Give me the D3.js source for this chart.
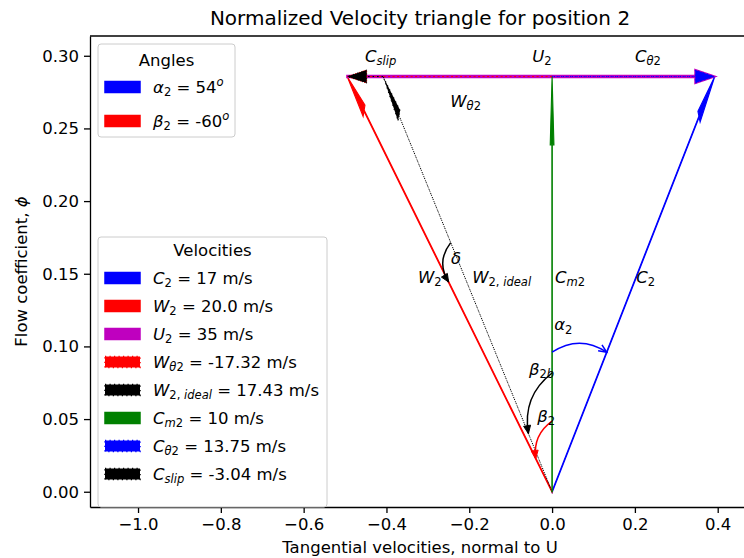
<!DOCTYPE html>
<html>
<head>
<meta charset="utf-8">
<script src="https://cdn.jsdelivr.net/npm/d3@7"></script>
<style>
  body { margin: 0; background: #fff; }
  text { font-family: "DejaVu Sans", sans-serif; fill: #000; }
</style>
</head>
<body>
<div id="container"></div>
<script>
/* DATA (m/s and degrees) */
const U2 = 35;
const velocityKeys   = ["C2", "W2", "U2", "Wt2", "W2ideal", "Cm2", "Ct2", "Cslip"];
const velocityValues = [17, 20.0, 35, -17.32, 17.43, 10, 13.75, -3.04];
const velocityDigits = [0, 1, 0, 2, 2, 0, 2, 2];
const angleKeys   = ["alpha2", "beta2"];
const angleValues = [54, -60];
const xTicks = [-1.0, -0.8, -0.6, -0.4, -0.2, 0.0, 0.2, 0.4];
const yTicks = [0.00, 0.05, 0.10, 0.15, 0.20, 0.25, 0.30];

/* CONSTANTS */
const width = 744, height = 558;
const margin = { top: 36, right: -6, bottom: 51, left: 90 };
const fontSize = 16.5;
const headLength = 0.047, headWidth = 0.009, shaftWidth = 0.001;
const dotted = "1.2,3.3";

const val = k => velocityValues[velocityKeys.indexOf(k)];

// styles for each velocity arrow (legend order = draw order)
const styles = {
  C2:      { color: "#0000ff", dash: null, lw: 1.1 },
  W2:      { color: "#ff0000", dash: null, lw: 1.1 },
  U2:      { color: "#bf00bf", dash: null, lw: 2 },
  Wt2:     { color: "#ff0000", dash: dotted, lw: 1 },
  W2ideal: { color: "#000000", dash: dotted, lw: 1 },
  Cm2:     { color: "#008000", dash: null, lw: 1.1 },
  Ct2:     { color: "#0000ff", dash: dotted, lw: 1 },
  Cslip:   { color: "#000000", dash: dotted, lw: 1 }
};

// math-like labels: [text, kind] kind: i italic, r roman, si sub italic, sr sub roman, pi sup italic
const legendMath = {
  C2:      [["C", "i"], ["2", "sr"]],
  W2:      [["W", "i"], ["2", "sr"]],
  U2:      [["U", "i"], ["2", "sr"]],
  Wt2:     [["W", "i"], ["θ", "si"], ["2", "sr"]],
  W2ideal: [["W", "i"], ["2,", "sr"], [" ideal", "si"]],
  Cm2:     [["C", "i"], ["m", "si"], ["2", "sr"]],
  Ct2:     [["C", "i"], ["θ", "si"], ["2", "sr"]],
  Cslip:   [["C", "i"], ["slip", "si"]],
  alpha2:  [["α", "i"], ["2", "sr"]],
  beta2:   [["β", "i"], ["2", "sr"]]
};

// annotation text placed in normalized data coordinates
const labels = [
  { at: [-0.452, 0.296], text: legendMath.Cslip },
  { at: [-0.048, 0.296], text: legendMath.U2 },
  { at: [0.200, 0.296],  text: legendMath.Ct2 },
  { at: [-0.246, 0.265], text: legendMath.Wt2 },
  { at: [-0.244, 0.157], text: [["δ", "i"]] },
  { at: [-0.324, 0.1436], text: legendMath.W2 },
  { at: [-0.193, 0.1436], text: legendMath.W2ideal },
  { at: [0.007, 0.1436], text: legendMath.Cm2 },
  { at: [0.203, 0.1436], text: legendMath.C2 },
  { at: [0.005, 0.111],  text: legendMath.alpha2 },
  { at: [-0.056, 0.0804], text: [["β", "i"], ["2", "sr"], ["b", "si"]] },
  { at: [-0.036, 0.048], text: legendMath.beta2 }
];

// angle arcs: fraction along one vector to fraction along another
const arcs = [
  { from: "Cm2", f0: 0.336, to: "C2", f1: 0.336, rad: 0.33, color: "#0000ff", head: "open" },
  { from: "Cm2", f0: 0.286, to: "W2ideal", f1: 0.14, rad: -0.3, color: "#000000", head: "filled" },
  { from: "Cm2", f0: 0.17, to: "W2", f1: 0.08, rad: -0.3, color: "#ff0000", head: "filled" },
  { from: "W2ideal", f0: 0.6, to: "W2", f1: 0.505, rad: -0.35, color: "#000000", head: "filled" }
];

/* VECTOR GEOMETRY (normalized by U2) */
const phi = val("Cm2") / U2;
const wt = val("Wt2") / U2, ct = val("Ct2") / U2;
const wtIdeal = (val("Wt2") - val("Cslip")) / U2;
const vectors = {
  C2:      [[0, 0], [ct, phi]],
  W2:      [[0, 0], [wt, phi]],
  U2:      [[wt, phi], [ct, phi]],
  Wt2:     [[0, phi], [wt, phi]],
  W2ideal: [[0, 0], [wtIdeal, phi]],
  Cm2:     [[0, 0], [0, phi]],
  Ct2:     [[0, phi], [ct, phi]],
  Cslip:   [[wtIdeal, phi], [wt, phi]]
};

/* SCALES */
const xScale = d3.scaleLinear().domain([-1.116, 0.478]).range([margin.left, width - margin.right]);
const yScale = d3.scaleLinear().domain([-0.0105, 0.3136]).range([height - margin.bottom, margin.top]);

const svg = d3.select("#container").append("svg")
  .attr("width", width).attr("height", height);

function mathText(g, x, y, parts, size) {
  const t = g.append("text").attr("x", x).attr("y", y).attr("font-size", size);
  let shift = 0;
  parts.forEach(([s, kind]) => {
    const target = kind[0] === "s" ? size * 0.2 : kind[0] === "p" ? -size * 0.4 : 0;
    const ts = t.append("tspan").text(s).attr("dy", target - shift);
    shift = target;
    if (kind.endsWith("i")) ts.attr("font-style", "italic");
    if (target !== 0) ts.attr("font-size", size * 0.7);
  });
  return t;
}

/* AXES */
svg.append("g")
  .attr("transform", `translate(0,${height - margin.bottom})`)
  .call(d3.axisBottom(xScale).tickValues(xTicks).tickFormat(d3.format(".1f"))
    .tickSizeInner(6).tickSizeOuter(0).tickPadding(5))
  .call(g => g.selectAll("text").attr("font-size", fontSize).attr("font-family", "DejaVu Sans"));

svg.append("g")
  .attr("transform", `translate(${margin.left},0)`)
  .call(d3.axisLeft(yScale).tickValues(yTicks).tickFormat(d3.format(".2f"))
    .tickSizeInner(6).tickSizeOuter(0).tickPadding(5))
  .call(g => g.selectAll("text").attr("font-size", fontSize).attr("font-family", "DejaVu Sans"));

svg.selectAll(".domain").attr("stroke-width", 1.3);
svg.selectAll(".tick line").attr("stroke-width", 1.3);

// top spine
svg.append("line")
  .attr("x1", margin.left).attr("x2", width - margin.right)
  .attr("y1", margin.top).attr("y2", margin.top)
  .attr("stroke", "#000").attr("stroke-width", 1.3);

svg.append("text")
  .attr("x", (margin.left + width - margin.right) / 2).attr("y", 25)
  .attr("text-anchor", "middle").attr("font-size", 20)
  .text("Normalized Velocity triangle for position 2");

svg.append("text")
  .attr("x", (margin.left + width - margin.right) / 2).attr("y", height - 5)
  .attr("text-anchor", "middle").attr("font-size", fontSize)
  .text("Tangential velocities, normal to U");

const yLabel = svg.append("text")
  .attr("transform", `translate(27,${(margin.top + height - margin.bottom) / 2}) rotate(-90)`)
  .attr("text-anchor", "middle").attr("font-size", fontSize);
yLabel.append("tspan").text("Flow coefficient, ");
yLabel.append("tspan").attr("font-style", "italic").text("ϕ");

/* ARROWS (FancyArrow-like polygons built in data space) */
function arrowPoints([s, e], sw) {
  const dx = e[0] - s[0], dy = e[1] - s[1];
  const L = Math.hypot(dx, dy);
  const ux = dx / L, uy = dy / L, nx = -uy, ny = ux;
  const hl = Math.min(headLength, L);
  const bx = e[0] - ux * hl, by = e[1] - uy * hl;
  const pts = [
    [s[0] + nx * sw / 2, s[1] + ny * sw / 2],
    [bx + nx * sw / 2, by + ny * sw / 2],
    [bx + nx * headWidth / 2, by + ny * headWidth / 2],
    e,
    [bx - nx * headWidth / 2, by - ny * headWidth / 2],
    [bx - nx * sw / 2, by - ny * sw / 2],
    [s[0] - nx * sw / 2, s[1] - ny * sw / 2]
  ];
  return pts.map(p => [xScale(p[0]), yScale(p[1])].join(",")).join(" ");
}

svg.append("g").selectAll("polygon")
  .data(velocityKeys)
  .join("polygon")
  .attr("points", k => arrowPoints(vectors[k], styles[k].dash ? 0 : shaftWidth))
  .attr("fill", k => styles[k].color)
  .attr("stroke", k => styles[k].color)
  .attr("stroke-width", k => styles[k].lw)
  .attr("stroke-linejoin", "miter")
  .attr("stroke-dasharray", k => styles[k].dash);

/* ANGLE ARCS */
const pointAlong = (k, f) => {
  const [s, e] = vectors[k];
  return [xScale(s[0] + (e[0] - s[0]) * f), yScale(s[1] + (e[1] - s[1]) * f)];
};
const arcG = svg.append("g");
arcs.forEach(a => {
  const p0 = pointAlong(a.from, a.f0), p1 = pointAlong(a.to, a.f1);
  const dx = p1[0] - p0[0], dy = p1[1] - p0[1];
  const c = [(p0[0] + p1[0]) / 2 + a.rad * dy, (p0[1] + p1[1]) / 2 - a.rad * dx];
  arcG.append("path")
    .attr("d", `M${p0}Q${c} ${p1}`)
    .attr("fill", "none").attr("stroke", a.color).attr("stroke-width", 1.5);
  const tx = p1[0] - c[0], ty = p1[1] - c[1], tl = Math.hypot(tx, ty);
  const ux = tx / tl, uy = ty / tl, hl = 8, hw = 3.5;
  const l = [p1[0] - ux * hl - uy * hw, p1[1] - uy * hl + ux * hw];
  const r = [p1[0] - ux * hl + uy * hw, p1[1] - uy * hl - ux * hw];
  if (a.head === "open") {
    arcG.append("path").attr("d", `M${l}L${p1}L${r}`)
      .attr("fill", "none").attr("stroke", a.color).attr("stroke-width", 1.5);
  } else {
    arcG.append("path").attr("d", `M${l}L${p1}L${r}Z`)
      .attr("fill", a.color).attr("stroke", a.color).attr("stroke-width", 1);
  }
});

/* LABELS */
const labelG = svg.append("g");
labels.forEach(d => mathText(labelG, xScale(d.at[0]), yScale(d.at[1]), d.text, fontSize));

/* LEGENDS */
function legendBox(box, title, rows) {
  const g = svg.append("g");
  g.append("rect")
    .attr("x", box.x).attr("y", box.y).attr("width", box.w).attr("height", box.h)
    .attr("rx", 3).attr("fill", "#fff").attr("fill-opacity", 0.8)
    .attr("stroke", "#cccccc").attr("stroke-width", 1);
  g.append("text")
    .attr("x", box.x + box.w / 2).attr("y", box.titleY)
    .attr("text-anchor", "middle").attr("font-size", fontSize).text(title);
  rows.forEach((r, i) => {
    const cy = box.firstRow + i * box.step;
    g.append("rect")
      .attr("x", box.x + 7).attr("y", cy - 5.5).attr("width", 35).attr("height", 11)
      .attr("fill", r.color).attr("stroke", r.color).attr("stroke-width", 1.5)
      .attr("stroke-dasharray", r.dash);
    mathText(g, box.x + 55, cy + 6, r.text, fontSize);
  });
}

legendBox({ x: 98, y: 44, w: 137, h: 93, titleY: 66, firstRow: 87, step: 34 }, "Angles",
  angleKeys.map((k, i) => ({
    color: i === 0 ? "#0000ff" : "#ff0000", dash: null,
    text: legendMath[k].concat([[` = ${angleValues[i]}`, "r"], ["o", "pi"]])
  })));

legendBox({ x: 98, y: 237, w: 229, h: 270, titleY: 256, firstRow: 278, step: 28 }, "Velocities",
  velocityKeys.map((k, i) => ({
    color: styles[k].color, dash: styles[k].dash,
    text: legendMath[k].concat([[` = ${velocityValues[i].toFixed(velocityDigits[i])} m/s`, "r"]])
  })));
</script>
</body>
</html>
